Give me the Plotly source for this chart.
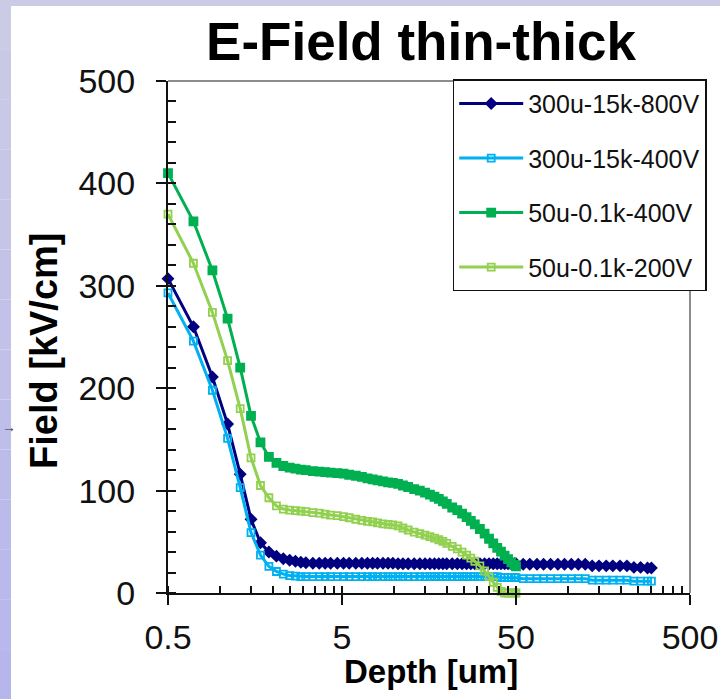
import math
import plotly.graph_objects as go

# ---- data -------------------------------------------------------------
# depth sample points [um]
depth_thin = [0.5, 0.7, 0.9, 1.1, 1.3, 1.5, 1.7, 1.9, 2.1,
              2.3, 2.5, 2.7, 2.9, 3.1,
              3.4, 3.7, 4.0, 4.3, 4.7,
              5.1, 5.5, 6.0, 6.5, 7.0, 7.5, 8.0, 8.6, 9.2, 9.8,
              10.5, 11.2, 12, 13, 14, 15, 16, 17, 18, 19, 20,
              21.5, 23, 24.5, 26, 27.5, 29,
              31, 33, 35, 37, 39, 41, 43, 45, 47, 49, 50]
depth_thick = depth_thin + [55, 60, 66, 72, 79, 87, 95, 104, 114, 125,
                            137, 150, 165, 180, 198, 217,
                            238, 260, 285, 300]

# electric field [kV/cm]
field_300u_800v = [307, 260, 211, 165, 116, 72, 49, 40, 36,
                   33.5, 32, 31, 30, 29.5,
                   29, 29, 29, 29, 29,
                   29, 29, 29, 29, 29, 29, 29, 29, 29, 29,
                   28.5, 28.5, 28.5, 28.5, 28.5, 28.5, 28.5, 28.5, 28.5, 28.5, 28.5,
                   28.5, 28.5, 28.5, 28.5, 28.5, 28.5,
                   28.5, 28.5, 28.5, 28.5, 28.5, 28.5, 28.5, 28.5, 28.5, 28.5, 28.5,
                   28, 28, 28, 28, 28, 28, 28, 28, 28, 28,
                   26.5, 26.5, 26.5, 26.5, 26.5, 26.5,
                   25, 25, 24.5, 24.5]

field_300u_400v = [293, 246, 198, 151, 103, 59, 37, 26, 21,
                   18.5, 17, 16.5, 16, 16,
                   16, 16, 16, 16, 16,
                   16, 16, 16, 16, 16, 16, 16, 16, 16, 16,
                   16, 16, 16, 16, 16, 16, 16, 16, 16, 16, 16,
                   16, 16, 16, 16, 16, 16,
                   16, 16, 16, 16, 16, 15, 15, 15, 15, 15, 15,
                   14, 14, 14, 14, 14, 14, 14, 14, 14, 14,
                   12.5, 12.5, 12.5, 12.5, 12.5, 12.5,
                   11.5, 11.5, 11.5, 11.5]

field_50u_400v = [410, 363, 315, 268, 220, 173, 147, 133, 127,
                  124, 122.5, 121.5, 120.5, 120,
                  119, 118.5, 118, 117.5, 117,
                  116.5, 115.5, 114.5, 113.5, 112, 111, 110, 109, 108, 107.5,
                  106.5, 105, 103.5, 101.5, 100, 98, 96, 94, 92, 89.5, 87,
                  83.5, 81, 77.5, 74, 70.5, 67,
                  62.5, 58, 53, 48.5, 44, 40.5, 36.5, 33, 30, 27.5, 26]

field_50u_200v = [370, 322, 274, 227, 180, 132, 105, 93, 85,
                  82, 81, 80.5, 80, 79.5,
                  78.5, 78, 77, 76, 75.5,
                  74.5, 73.5, 72, 71, 70, 69.5, 68.5, 67.5, 67, 66.5,
                  65.5, 63.5, 61.5, 59.5, 58, 56.5, 55, 53.5, 52, 50.5, 48.5,
                  45.5, 43, 40, 37, 34, 31,
                  26.5, 21.5, 16, 10.5, 5.5, 1.5, 0, 0, 0, 0, 0]

series_names = ["300u-15k-800V", "300u-15k-400V", "50u-0.1k-400V", "50u-0.1k-200V"]
x_tick_vals = [0.5, 5, 50, 500]
x_tick_text = ["0.5", "5", "50", "500"]
y_tick_vals = [0, 100, 200, 300, 400, 500]

# ---- geometry helpers ---------------------------------------------------
W, H = 720, 699
ML, MR, MT, MB = 168, 30, 81, 106
PW, PH = W - ML - MR, H - MT - MB


def px_x(px):
    return (px - ML) / PW


def px_y(py):
    return (H - MB - py) / PH


FONT = "Liberation Sans, Arial, sans-serif"
AXIS_COL = "#111111"

styles = [
    dict(color="#000080", symbol="diamond", size=8),
    dict(color="#00b0f0", symbol="square-open", size=7),
    dict(color="#00b050", symbol="square", size=8),
    dict(color="#92d050", symbol="square-open", size=7),
]
xs = [depth_thick, depth_thick, depth_thin, depth_thin]
ys = [field_300u_800v, field_300u_400v, field_50u_400v, field_50u_200v]

fig = go.Figure()
for name, x, y, st in zip(series_names, xs, ys, styles):
    fig.add_trace(go.Scatter(
        x=x, y=y, name=name, mode="lines+markers",
        line=dict(color=st["color"], width=3),
        marker=dict(color=st["color"], symbol=st["symbol"], size=st["size"],
                    line=dict(color=st["color"], width=1.8)),
        cliponaxis=False, legendgroup=name,
    ))

# minor ticks on the log axis: 0.5*k*10^n (majors included so they cross the axis)
minor_x = [0.5 * k * 10 ** n for n in range(3) for k in range(1, 10)] + [500]

fig.update_xaxes(
    type="log", range=[math.log10(0.5), math.log10(500)],
    tickvals=x_tick_vals, ticktext=x_tick_text,
    ticks="outside", ticklen=10, tickwidth=2, tickcolor=AXIS_COL,
    showline=True, linecolor=AXIS_COL, linewidth=2,
    showgrid=False, zeroline=False,
    tickfont=dict(family=FONT, size=34, color="#111111"),
    ticklabelstandoff=3,
    minor=dict(tickvals=minor_x, ticks="inside", ticklen=7, tickwidth=1.5,
               tickcolor=AXIS_COL, showgrid=False),
)
fig.update_yaxes(
    range=[0, 500], tickvals=y_tick_vals,
    ticks="outside", ticklen=10, tickwidth=2, tickcolor=AXIS_COL,
    showline=True, linecolor=AXIS_COL, linewidth=2,
    showgrid=False, zeroline=False,
    tickfont=dict(family=FONT, size=34, color="#111111"),
    ticklabelstandoff=14,
    minor=dict(dtick=20, ticks="inside", ticklen=8, tickwidth=1.5,
               tickcolor=AXIS_COL, showgrid=False),
)

shapes = []
# lavender slide background: top strip and a shaded left strip
shapes.append(dict(type="rect", xref="paper", yref="paper",
                   x0=px_x(0), x1=px_x(W), y0=px_y(6), y1=px_y(0),
                   fillcolor="#cbcbe6", line=dict(width=0), layer="below"))
n_bands = 14
for i in range(n_bands):
    t = i / (n_bands - 1)
    r = int(round(0xcb + (0xb6 - 0xcb) * t))
    b = int(round(0xe6 + (0xec - 0xe6) * t))
    col = f"rgb({r},{r},{b})"
    shapes.append(dict(type="rect", xref="paper", yref="paper",
                       x0=px_x(0), x1=px_x(11),
                       y0=px_y(H * (i + 1) / n_bands), y1=px_y(H * i / n_bands),
                       fillcolor=col, line=dict(width=0), layer="below"))
# grey plot-area frame on top and right
shapes.append(dict(type="line", xref="paper", yref="paper", x0=0, x1=1, y0=1, y1=1,
                   line=dict(color="#8c8c8c", width=2)))
shapes.append(dict(type="line", xref="paper", yref="paper", x0=1, x1=1, y0=0, y1=1,
                   line=dict(color="#8c8c8c", width=2)))

annotations = [
    dict(text="Field [kV/cm]", xref="paper", yref="paper",
         x=px_x(44), y=px_y(351), textangle=-90, showarrow=False,
         xanchor="center", yanchor="middle",
         font=dict(family=FONT, size=38, color="#000000", weight="bold")),
    dict(text="Depth [um]", xref="paper", yref="paper",
         x=px_x(431), y=px_y(671), showarrow=False,
         xanchor="center", yanchor="middle",
         font=dict(family=FONT, size=33, color="#000000", weight="bold")),
    dict(text="→", xref="paper", yref="paper",
         x=px_x(0), y=px_y(427), showarrow=False,
         xanchor="left", yanchor="middle",
         font=dict(family=FONT, size=14, color="#333333")),
]

fig.update_layout(
    width=W, height=H,
    margin=dict(l=ML, r=MR, t=MT, b=MB, pad=0, autoexpand=False),
    paper_bgcolor="white", plot_bgcolor="white",
    title=dict(text="E-Field thin-thick", x=421 / W, y=1 - 41 / H,
               xanchor="center", yanchor="middle",
               font=dict(family=FONT, size=53, color="#000000", weight="bold")),
    showlegend=True,
    legend=dict(x=px_x(452.7), y=px_y(79.3), xanchor="left", yanchor="top",
                bgcolor="white", bordercolor=AXIS_COL, borderwidth=1.5,
                font=dict(family=FONT, size=25, color="#111111"),
                itemwidth=64, tracegroupgap=19),
    shapes=shapes, annotations=annotations,
)

fig.write_html("out.html")
